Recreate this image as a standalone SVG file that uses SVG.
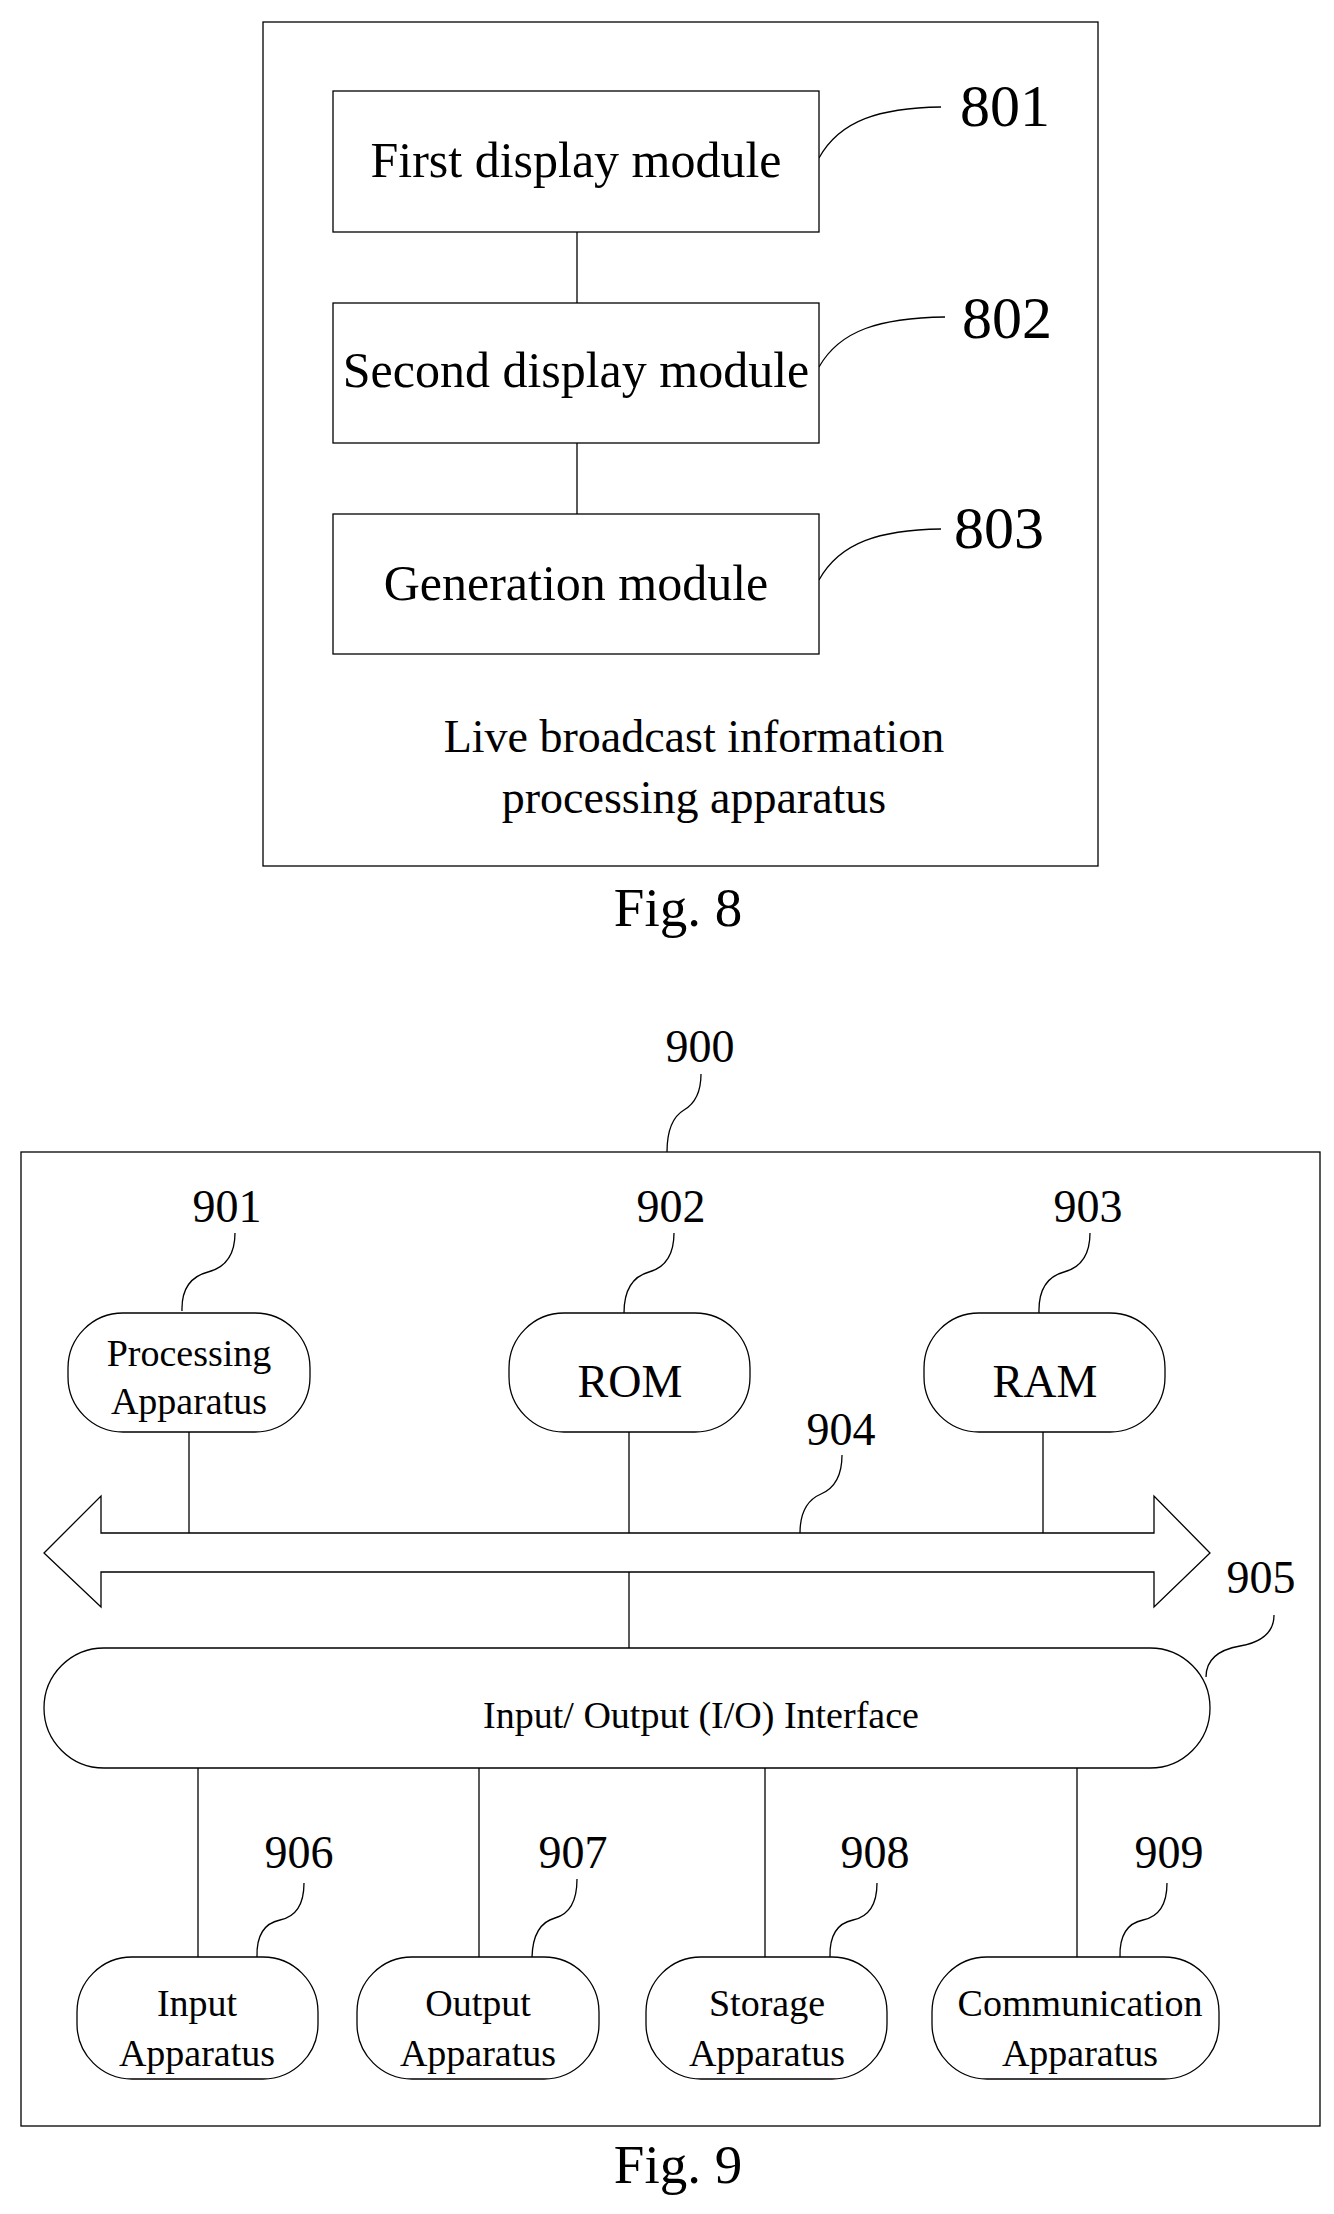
<svg xmlns="http://www.w3.org/2000/svg" width="1334" height="2214" viewBox="0 0 1334 2214">
<style>
text{font-family:"Liberation Serif","Times New Roman",serif;fill:#000;text-anchor:middle}
.b{fill:#fff;stroke:#000;stroke-width:1.3}
.l{fill:none;stroke:#000;stroke-width:1.3}
.m{font-size:50px}.n{font-size:60px}.s{font-size:46px}.t{font-size:38px}.u{font-size:46px}
</style>
<rect width="1334" height="2214" fill="#fff"/>
<g id="fig8">
<rect class="b" x="263" y="22" width="835" height="844"/>
<text class="u" x="694" y="752">Live broadcast information</text>
<text class="u" x="694" y="813">processing apparatus</text>
<text x="678" y="926" style="font-size:55px">Fig. 8</text>
</g>
<g id="connectors8">
<line class="l" x1="577" y1="232" x2="577" y2="303"/>
<line class="l" x1="577" y1="443" x2="577" y2="514"/>
<path class="l" d="M819 158 C840 120 880 108 941 107"/>
<path class="l" d="M819 367 C840 330 880 318 945 317"/>
<path class="l" d="M819 580 C840 542 880 530 941 529"/>
</g>
<g id="n801"><rect class="b" x="333" y="91" width="486" height="141"/><text class="m" x="576" y="177">First display module</text><text class="n" x="1005" y="126">801</text></g>
<g id="n802"><rect class="b" x="333" y="303" width="486" height="140"/><text class="m" x="576" y="387">Second display module</text><text class="n" x="1007" y="338">802</text></g>
<g id="n803"><rect class="b" x="333" y="514" width="486" height="140"/><text class="m" x="576" y="600">Generation module</text><text class="n" x="999" y="548">803</text></g>

<g id="fig9">
<rect class="b" x="21" y="1152" width="1299" height="974"/>
<text class="s" x="700" y="1062">900</text>
<text x="678" y="2183" style="font-size:55px">Fig. 9</text>
</g>
<g id="connectors9">
<path class="l" d="M701 1074 Q701 1100 684 1110 T667 1152"/>
<line class="l" x1="189" y1="1432" x2="189" y2="1533"/>
<line class="l" x1="629" y1="1432" x2="629" y2="1533"/>
<line class="l" x1="1043" y1="1432" x2="1043" y2="1533"/>
<line class="l" x1="629" y1="1572" x2="629" y2="1648"/>
<line class="l" x1="198" y1="1768" x2="198" y2="1957"/>
<line class="l" x1="479" y1="1768" x2="479" y2="1957"/>
<line class="l" x1="765" y1="1768" x2="765" y2="1957"/>
<line class="l" x1="1077" y1="1768" x2="1077" y2="1957"/>
<path class="l" d="M235 1233 Q235 1265 208 1272 T182 1311"/>
<path class="l" d="M674 1233 Q674 1265 649 1272 T624 1313"/>
<path class="l" d="M1090 1233 Q1090 1265 1064 1272 T1039 1313"/>
<path class="l" d="M842 1455 Q842 1485 821 1494 T800 1533"/>
<path class="l" d="M1274 1615 Q1274 1640 1240 1646 T1206 1677"/>
<path class="l" d="M304 1883 Q304 1915 280 1920 T257 1957"/>
<path class="l" d="M577 1879 Q577 1912 555 1918 T532 1957"/>
<path class="l" d="M877 1883 Q877 1915 853 1920 T830 1957"/>
<path class="l" d="M1167 1883 Q1167 1915 1143 1920 T1120 1957"/>
</g>
<g id="bus904">
<path class="b" d="M44 1553 L101 1496 L101 1533 L1154 1533 L1154 1496 L1210 1553 L1154 1607 L1154 1572 L101 1572 L101 1607 Z"/>
<text class="s" x="841" y="1445">904</text>
</g>
<g id="n901"><rect class="b" x="68" y="1313" width="242" height="119" rx="55"/><text class="t" x="189" y="1366">Processing</text><text class="t" x="189" y="1414">Apparatus</text><text class="s" x="227" y="1222">901</text></g>
<g id="n902"><rect class="b" x="509" y="1313" width="241" height="119" rx="55"/><text x="630" y="1397" style="font-size:46px">ROM</text><text class="s" x="671" y="1222">902</text></g>
<g id="n903"><rect class="b" x="924" y="1313" width="241" height="119" rx="55"/><text x="1045" y="1397" style="font-size:46px">RAM</text><text class="s" x="1088" y="1222">903</text></g>
<g id="n905"><rect class="b" x="44" y="1648" width="1166" height="120" rx="60"/><text class="t" x="701" y="1728">Input/ Output (I/O) Interface</text><text class="s" x="1261" y="1593">905</text></g>
<g id="n906"><rect class="b" x="77" y="1957" width="241" height="122" rx="55"/><text class="t" x="197" y="2016">Input</text><text class="t" x="197" y="2066">Apparatus</text><text class="s" x="299" y="1868">906</text></g>
<g id="n907"><rect class="b" x="357" y="1957" width="242" height="122" rx="55"/><text class="t" x="478" y="2016">Output</text><text class="t" x="478" y="2066">Apparatus</text><text class="s" x="573" y="1868">907</text></g>
<g id="n908"><rect class="b" x="646" y="1957" width="241" height="122" rx="55"/><text class="t" x="767" y="2016">Storage</text><text class="t" x="767" y="2066">Apparatus</text><text class="s" x="875" y="1868">908</text></g>
<g id="n909"><rect class="b" x="932" y="1957" width="287" height="122" rx="55"/><text class="t" x="1080" y="2016">Communication</text><text class="t" x="1080" y="2066">Apparatus</text><text class="s" x="1169" y="1868">909</text></g>
</svg>
